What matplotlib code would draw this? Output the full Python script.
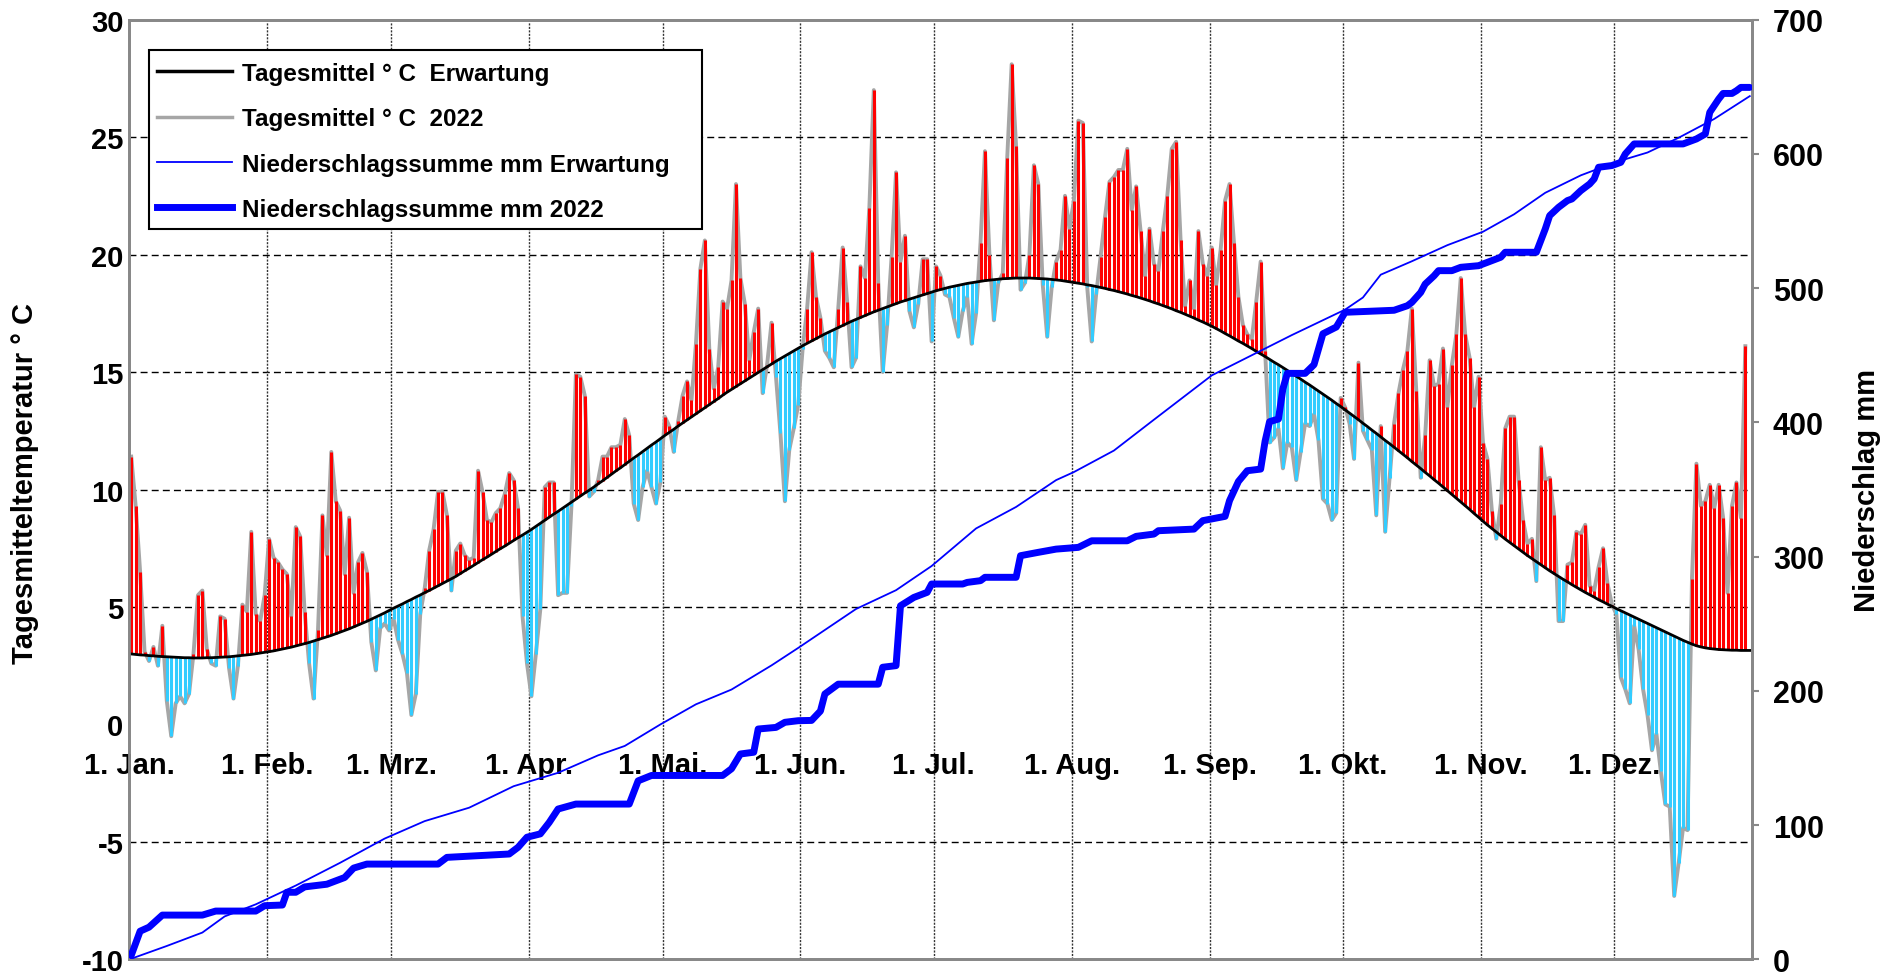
import matplotlib
matplotlib.use("Agg")
import matplotlib.pyplot as plt
import numpy as np
from matplotlib.lines import Line2D
from matplotlib.patches import Rectangle

plt.rcParams['font.family'] = ['Liberation Sans', 'DejaVu Sans']
plt.rcParams['font.weight'] = 'bold'
plt.rcParams['axes.unicode_minus'] = False

# Tagesmittel 2022 (1. Jan. bis 31. Dez.), 31.12. fehlt
temp_2022 = [
    11.4, 9.3, 6.5, 3.1, 2.7, 3.3, 2.5, 4.2, 1.0, -0.5,
    0.9, 1.2, 0.9, 1.3, 3.0, 5.5, 5.7, 3.2, 2.6, 2.5,
    4.6, 4.5, 2.4, 1.1, 2.5, 5.1, 4.8, 8.2, 4.7, 4.4,
    5.5, 7.9, 7.1, 6.9, 6.6, 6.4, 4.6, 8.4, 8.0, 4.8,
    2.6, 1.1, 4.0, 8.9, 7.2, 11.6, 9.5, 9.1, 6.4, 8.8,
    5.6, 6.9, 7.3, 6.5, 3.5, 2.3, 4.1, 4.3, 4.0, 4.5,
    3.6, 3.0, 2.2, 0.4, 1.3, 4.7, 5.8, 7.4, 8.3, 9.9,
    9.9, 8.9, 5.7, 7.4, 7.7, 7.2, 7.0, 7.1, 10.8, 9.9,
    8.7, 8.6, 9.0, 9.2, 9.8, 10.7, 10.4, 9.2, 4.6, 2.6,
    1.2, 3.0, 4.9, 10.1, 10.3, 10.3, 5.5, 5.6, 5.6, 9.3,
    14.9, 14.8, 14.0, 9.7, 9.9, 10.4, 11.4, 11.4, 11.8, 11.8,
    11.9, 13.0, 12.3, 9.4, 8.7, 10.1, 10.8, 10.1, 9.4, 10.3,
    13.1, 12.7, 11.6, 12.9, 14.0, 14.6, 13.8, 16.2, 19.4, 20.6,
    16.0, 14.3, 15.2, 18.0, 17.7, 18.9, 23.0, 19.0, 17.9, 15.5,
    16.7, 17.7, 14.1, 15.3, 17.1, 14.8, 12.4, 9.5, 11.7, 12.6,
    13.6, 16.0, 17.7, 20.1, 18.2, 17.3, 15.9, 15.6, 15.2, 17.7,
    20.3, 18.0, 15.2, 15.6, 19.5, 19.0, 22.0, 27.0, 18.8, 15.0,
    17.0, 19.9, 23.5, 19.7, 20.8, 17.6, 16.9, 17.9, 19.8, 19.8,
    16.3, 19.5, 19.1, 18.3, 18.2, 17.3, 16.5, 17.6, 18.2, 16.2,
    17.5, 20.5, 24.4, 20.0, 17.2, 18.8, 19.2, 24.1, 28.1, 24.6,
    18.5, 18.8, 20.0, 23.8, 23.0, 18.7, 16.5, 18.6, 19.7, 20.2,
    22.5, 21.1, 22.3, 25.7, 25.6, 18.6, 16.3, 18.3, 19.9, 21.6,
    23.1, 23.3, 23.6, 23.6, 24.5, 21.9, 22.9, 21.0, 19.1, 21.1,
    19.6, 19.3, 21.0, 22.5, 24.5, 24.8, 20.6, 17.8, 18.9, 17.7,
    21.0, 19.6, 19.1, 20.3, 18.7, 20.2, 22.3, 23.0, 20.5, 18.2,
    17.0, 16.6, 16.4, 18.0, 19.7, 15.9, 12.0, 12.2, 12.6, 10.9,
    12.0, 11.8, 10.4, 11.6, 12.8, 12.7, 13.2, 12.1, 9.6, 9.4,
    8.7, 9.0, 13.9, 13.5, 12.8, 11.3, 15.4, 12.5, 12.1, 11.7,
    8.9, 12.7, 8.2, 10.5, 12.8, 14.1, 15.1, 15.9, 17.7, 14.2,
    10.5, 12.3, 15.5, 14.4, 14.5, 16.0, 13.5, 15.3, 16.6, 19.0,
    16.6, 15.6, 13.5, 14.8, 12.0, 11.3, 9.1, 7.9, 9.4, 12.6,
    13.1, 13.1, 10.4, 8.7, 7.7, 7.9, 6.1, 11.8, 10.4, 10.5,
    8.9, 4.4, 4.4, 6.8, 6.9, 8.2, 8.1, 8.5, 5.9, 5.7,
    6.7, 7.5, 6.0, 5.1, 4.7, 2.0, 1.5, 0.9, 4.2, 3.2,
    1.5, 0.4, -1.1, -0.4, -2.0, -3.4, -3.5, -7.3, -5.9, -4.4,
    -4.5, 6.2, 11.1, 9.3, 9.5, 10.2, 9.2, 10.2, 8.8, 5.6,
    9.3, 10.3, 8.8, 16.1, np.nan,
]

# Erwartungswert Tagesmittel
temp_expected = [
    # Jan
    3.00, 2.98, 2.96, 2.95, 2.93, 2.92, 2.90, 2.89, 2.88, 2.87, 2.86, 2.85, 2.84, 2.84, 2.83, 2.83,
    2.83, 2.84, 2.84, 2.85, 2.86, 2.87, 2.88, 2.90, 2.92, 2.94, 2.96, 2.98, 3.01, 3.04, 3.07,
    # Feb
    3.10, 3.13, 3.17, 3.21, 3.25, 3.29, 3.34, 3.39, 3.44, 3.49, 3.55, 3.61, 3.67, 3.73,
    3.79, 3.86, 3.93, 4.00, 4.07, 4.15, 4.23, 4.31, 4.39, 4.48, 4.57, 4.66, 4.75, 4.85,
    # Mrz
    4.95, 5.04, 5.13, 5.23, 5.32, 5.42, 5.51, 5.61, 5.70, 5.80, 5.90, 6.00, 6.10, 6.20,
    6.30, 6.42, 6.54, 6.65, 6.77, 6.89, 7.01, 7.12, 7.24, 7.36, 7.48, 7.59, 7.71, 7.83, 7.95, 8.06, 8.18,
    # Apr
    8.30, 8.43, 8.56, 8.69, 8.82, 8.95, 9.07, 9.20, 9.33, 9.46, 9.59, 9.72, 9.85, 9.97, 10.10,
    10.24, 10.37, 10.51, 10.65, 10.79, 10.92, 11.06, 11.20, 11.34, 11.47, 11.61, 11.75, 11.89, 12.02, 12.16,
    # Mai
    12.30, 12.43, 12.56, 12.70, 12.83, 12.96, 13.09, 13.22, 13.35, 13.48, 13.61, 13.74, 13.87, 14.01, 14.14,
    14.26, 14.38, 14.50, 14.62, 14.74, 14.86, 14.98, 15.10, 15.22, 15.34, 15.46, 15.57, 15.68, 15.79, 15.90, 16.01,
    # Jun
    16.12, 16.22, 16.32, 16.42, 16.52, 16.62, 16.71, 16.80, 16.89, 16.98, 17.07, 17.16, 17.24, 17.32, 17.40,
    17.48, 17.56, 17.63, 17.70, 17.77, 17.84, 17.91, 17.98, 18.04, 18.10, 18.16, 18.22, 18.28, 18.34, 18.40,
    # Jul
    18.46, 18.51, 18.56, 18.61, 18.65, 18.69, 18.73, 18.77, 18.80, 18.83, 18.86, 18.89, 18.91, 18.93, 18.95,
    18.97, 18.98, 18.99, 19.00, 19.00, 19.00, 19.00, 18.99, 18.98, 18.97, 18.96, 18.94, 18.92, 18.90, 18.87, 18.84,
    # Aug
    18.81, 18.78, 18.75, 18.71, 18.68, 18.64, 18.60, 18.56, 18.51, 18.47, 18.42, 18.37, 18.32, 18.26, 18.21,
    18.15, 18.09, 18.03, 17.96, 17.90, 17.83, 17.76, 17.69, 17.61, 17.54, 17.46, 17.38, 17.30, 17.21, 17.13, 17.04,
    # Sep
    16.95, 16.85, 16.75, 16.64, 16.54, 16.43, 16.32, 16.22, 16.11, 16.00, 15.88, 15.77, 15.66, 15.54, 15.42,
    15.31, 15.19, 15.07, 14.94, 14.82, 14.70, 14.57, 14.45, 14.32, 14.19, 14.06, 13.93, 13.80, 13.66, 13.53,
    # Okt
    13.39, 13.25, 13.11, 12.97, 12.82, 12.68, 12.53, 12.39, 12.24, 12.09, 11.95, 11.80, 11.65, 11.50, 11.35,
    11.19, 11.04, 10.89, 10.73, 10.58, 10.42, 10.27, 10.11, 9.95, 9.79, 9.63, 9.47, 9.31, 9.15, 8.98, 8.82,
    # Nov
    8.65, 8.49, 8.34, 8.19, 8.04, 7.89, 7.75, 7.61, 7.47, 7.33, 7.19, 7.06, 6.93, 6.80, 6.67,
    6.54, 6.42, 6.30, 6.18, 6.07, 5.95, 5.84, 5.73, 5.62, 5.52, 5.42, 5.31, 5.22, 5.12, 5.03,
    # Dez
    4.93, 4.84, 4.75, 4.66, 4.57, 4.48, 4.39, 4.30, 4.21, 4.12, 4.03, 3.94, 3.85, 3.76, 3.67,
    3.58, 3.50, 3.42, 3.35, 3.30, 3.26, 3.23, 3.21, 3.19, 3.18, 3.17, 3.16, 3.16, 3.15, 3.15, 3.15,
]

# Niederschlagssumme Erwartung (Tag des Jahres, mm)
rain_exp_day = [0, 8, 16, 21, 28, 37, 47, 57, 66, 76, 86, 96, 105, 111, 119, 127, 135, 144, 150,
                163, 172, 180, 190, 199, 208, 212, 221, 230, 243, 252, 261, 273, 277, 281, 288,
                296, 304, 311, 318, 326, 334, 341, 348, 356, 364]
rain_exp_mm = [0.5, 10, 20, 32, 41, 55, 72, 90, 103, 113, 129, 139, 152, 159, 175, 190, 201, 219, 232,
               261, 275, 293, 321, 337, 357, 363, 379, 402, 435, 450, 465, 484, 493, 510, 520,
               532, 542, 555, 571, 584, 594, 601, 612, 626, 643]

# Niederschlagssumme 2022 (Tag des Jahres, mm)
rain_22_day = [0, 2, 4, 7, 16, 19, 28, 30, 34, 35, 37, 39, 44, 48, 50, 53, 69, 71, 85, 87,
               89, 92, 94, 96, 100, 112, 114, 117, 133, 135, 137, 140, 141, 145, 147, 150, 153, 155,
               156, 159, 168, 169, 172, 173, 176, 179, 180, 187, 188, 191, 192, 199, 200, 204,
               208, 213, 216, 224, 226, 230, 231, 239, 241, 246, 247, 249, 251, 254, 255, 256,
               258, 259, 260, 264, 266, 268, 271, 273, 284, 287, 288, 290, 291, 293, 294, 297,
               299, 303, 305, 308, 309, 316, 318, 319, 321, 323, 324, 326, 328, 329, 330, 333,
               335, 336, 338, 349, 352, 354, 355, 357, 358, 360, 361, 362, 364]
rain_22_mm = [3, 21, 24, 33, 33, 36, 36, 40, 40.5, 50, 50, 54, 56, 61, 68, 71, 71, 76, 78.5, 83.5,
              91, 93.5, 102, 112, 115.7, 115.7, 133, 137, 137, 142, 153, 154.3, 171.6, 172.8, 176.6, 177.8, 178, 185,
              197.7, 205, 205, 217.6, 218.8, 263.4, 269.6, 273.4, 279.6, 279.6, 280.8, 282.1, 284.6, 284.6, 300.7, 303.2,
              305.6, 306.9, 311.8, 311.8, 315.1, 316.8, 319.3, 320.5, 326.8, 330, 341.7, 356, 364, 365.2, 386, 400.5,
              402.5, 425, 436.5, 436.5, 443, 466, 471, 482, 483.5, 486.9, 489.4, 496.8, 503, 509.2, 513, 513,
              515.5, 516.7, 519.2, 523, 526.7, 526.7, 544, 554, 560.2, 565.2, 566.4, 572.6, 577.6, 581.3, 590, 591.3,
              593.7, 599.9, 607.4, 607.4, 611.1, 614.8, 630.9, 640.8, 645, 645, 647, 649.5, 649.5]

month_labels = ["1. Jan.", "1. Feb.", "1. Mrz.", "1. Apr.", "1. Mai.", "1. Jun.",
                "1. Jul.", "1. Aug.", "1. Sep.", "1. Okt.", "1. Nov.", "1. Dez."]
month_start = [0, 31, 59, 90, 120, 151, 181, 212, 243, 273, 304, 334]

W, H = 1899, 978
fig = plt.figure(figsize=(W / 100, H / 100), dpi=100)
x0, x1, y_top, y_bot = 129, 1752, 20.6, 960.4
ax = fig.add_axes([x0 / W, 1 - y_bot / H, (x1 - x0) / W, (y_bot - y_top) / H])
ax2 = ax.twinx()

t22 = np.array(temp_2022, dtype=float)
texp = np.array(temp_expected, dtype=float)
days = np.arange(len(texp)) + 0.5

# Abweichung vom Erwartungswert als senkrechte Striche
warm = t22 >= texp
cold = t22 < texp
ax.plot(days, t22, color='#a6a6a6', lw=2.8, zorder=2)
ax.vlines(days[warm], texp[warm], t22[warm], colors='#ff0000', lw=2.2, zorder=3)
ax.vlines(days[cold], texp[cold], t22[cold], colors='#33ccff', lw=2.2, zorder=3)
ax.plot(days, texp, color='black', lw=2.0, zorder=4)

# Gitter
for yv in [-5, 5, 10, 15, 20, 25]:
    ax.axhline(yv, color='black', lw=1.0, ls=(0, (5, 3)), zorder=1)
for m in month_start[1:]:
    ax.axvline(m, color='#333333', lw=1.0, ls=(0, (1.5, 1.0)), zorder=1)

ax.set_xlim(0, 365)
ax.set_ylim(-10, 30)
ax.set_xticks([])
ax.set_yticks(range(-10, 31, 5))
ax.tick_params(axis='y', labelsize=21, length=0, pad=4)

for m, lab in zip(month_start, month_labels):
    ax.text(m, -1.73, lab, ha='center', va='center', fontsize=21, fontweight='bold',
            clip_on=False, zorder=6)

ax.set_ylabel("Tagesmitteltemperatur ° C", fontsize=21, fontweight='bold')
ax.yaxis.set_label_coords(-0.0555, 0.507)

# Niederschlag auf der rechten Achse
ax2.plot(np.array(rain_exp_day) + 0.5, rain_exp_mm, color='#0000ff', lw=1.3, zorder=3)
ax2.plot(np.array(rain_22_day) + 0.5, rain_22_mm, color='#0000ff', lw=5.0, zorder=4,
         solid_joinstyle='round', solid_capstyle='round')
ax2.set_ylim(0, 700)
ax2.set_yticks(range(0, 701, 100))
ax2.tick_params(axis='y', labelsize=22, length=5, width=1.5, color='#888888', pad=10)
ax2.set_ylabel("Niederschlag mm", fontsize=21, fontweight='bold')
ax2.yaxis.set_label_coords(1.062, 0.5)

for a in (ax, ax2):
    for s in a.spines.values():
        s.set_color('#888888')
        s.set_linewidth(2)

# Legende mit eigenem Rahmen
box = Rectangle((149 / W, 1 - 230 / H), 553 / W, 179 / H, transform=fig.transFigure,
                facecolor='white', edgecolor='black', lw=1.5, zorder=10)
ax2.add_patch(box)
handles = [
    Line2D([], [], color='black', lw=2.5),
    Line2D([], [], color='#a6a6a6', lw=2.5),
    Line2D([], [], color='#0000ff', lw=1.3),
    Line2D([], [], color='#0000ff', lw=5.0),
]
labels = ["Tagesmittel ° C  Erwartung", "Tagesmittel ° C  2022",
          "Niederschlagssumme mm Erwartung", "Niederschlagssumme mm 2022"]
leg = ax2.legend(handles, labels, loc='upper left', bbox_to_anchor=(152 / W, 1 - 58 / H),
                 bbox_transform=fig.transFigure, frameon=False, fontsize=17.5,
                 handlelength=3.1, handletextpad=0.4, labelspacing=0.92, borderpad=0.2,
                 borderaxespad=0)
leg.set_zorder(11)

fig.savefig("out.png", dpi=100)
